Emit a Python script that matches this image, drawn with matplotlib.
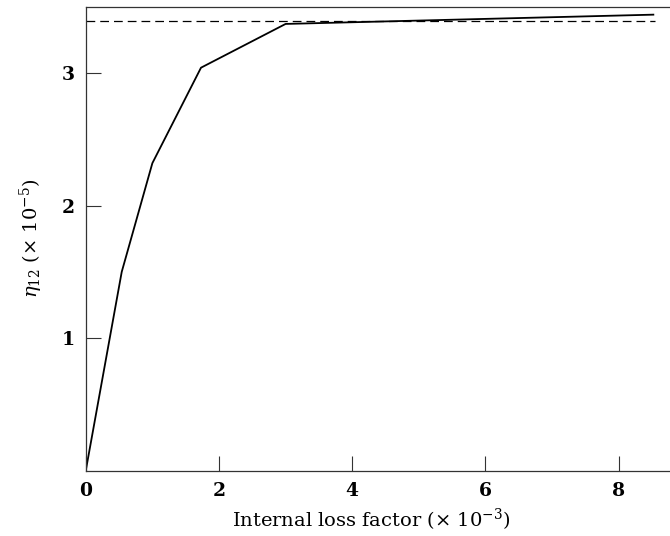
import matplotlib
matplotlib.use("Agg")
import matplotlib.pyplot as plt

# Data
loss_factor = [0.0, 0.54, 1.00, 1.73, 3.00, 8.52]
eta12 = [0.0, 1.50, 2.32, 3.04, 3.37, 3.44]
asymptote = 3.39
asym_x = [0.0, 8.55]
xticks = [0, 2, 4, 6, 8]
yticks = [1, 2, 3]

plt.rcParams['font.family'] = ['DejaVu Serif']
plt.rcParams['mathtext.fontset'] = 'dejavuserif'

fig = plt.figure(figsize=(6.7, 5.36), dpi=100)
ax = fig.add_axes([0.128, 0.1218, 1.0 - 0.128, 0.9875 - 0.1218])

ax.plot(loss_factor, eta12, color='black', lw=1.3)
ax.plot(asym_x, [asymptote, asymptote], color='black', lw=0.9, ls=(0, (7, 4)))

ax.set_xlim(0, 8.77)
ax.set_ylim(0, 3.5)
ax.set_xticks(xticks)
ax.set_yticks(yticks)
ax.set_xticklabels([str(t) for t in xticks], fontweight='bold', fontsize=13.5)
ax.set_yticklabels([str(t) for t in yticks], fontweight='bold', fontsize=13.5)
ax.tick_params(direction='in', length=10.8, width=0.8, color='#333333', pad=8)

for s in ['left', 'bottom', 'top']:
    ax.spines[s].set_color('#333333')
    ax.spines[s].set_linewidth(0.9)
ax.spines['right'].set_visible(False)

ax.set_xlabel(r'Internal loss factor ($\times\ 10^{-3}$)', fontsize=14, labelpad=5)
ax.xaxis.set_label_coords(0.488, -0.078)
ax.set_ylabel(r'$\eta_{12}$ ($\times\ 10^{-5}$)', fontsize=14, labelpad=12)

fig.savefig('out.png', dpi=100)
